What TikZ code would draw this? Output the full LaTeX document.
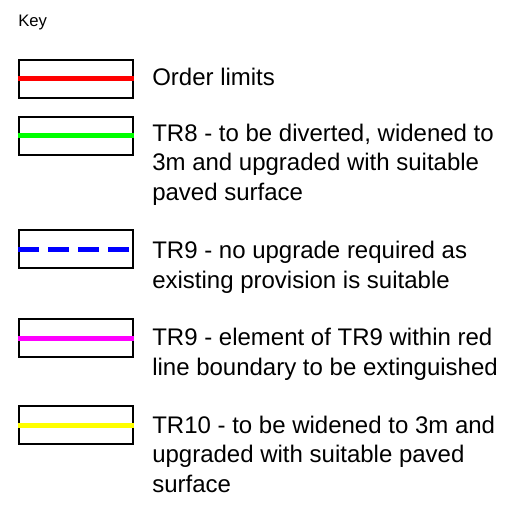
\documentclass[tikz,border=0pt]{standalone}
\usepackage{fontspec}
\setmainfont{Liberation Sans}
\definecolor{limitred}{RGB}{255,0,0}
\definecolor{divertgreen}{RGB}{0,255,0}
\definecolor{keepblue}{RGB}{0,0,255}
\definecolor{stopmagenta}{RGB}{255,0,255}
\definecolor{widenyellow}{RGB}{255,255,0}
\begin{document}
\begin{tikzpicture}[x=0.75pt,y=-0.75pt]
				\tikzstyle{Swatch} = [draw, line width=1.1pt, minimum width=85.5pt, minimum height=28.5pt, inner sep=0pt]
				\tikzstyle{Label} = [anchor=base west, align=left, inner sep=0pt, font=\fontsize{18}{22.1}\selectfont]
				\tikzstyle{Track} = [line width=3.75pt]
				\useasboundingbox (0,0) rectangle (524,506);
				\node (key) at (18,27) [anchor=base west, inner sep=0pt, font=\fontsize{12.5}{15}\selectfont] {Key};
				\node (s1) at (76,79) [Swatch] {};
				\node (s2) at (76,136) [Swatch] {};
				\node (s3) at (76,249) [Swatch] {};
				\node (s4) at (76,338) [Swatch] {};
				\node (s5) at (76,425) [Swatch] {};
				\draw [Track, limitred] (s1.west) to (s1.east);
				\draw [Track, divertgreen] (s2.west) to (s2.east);
				\draw [Track, keepblue, dash pattern=on 15.75pt off 6.75pt] (s3.west) to (s3.east);
				\draw [Track, stopmagenta] (s4.west) to (s4.east);
				\draw [Track, widenyellow] (s5.west) to (s5.east);
				% base west = baseline of the last line
				\node (t1) at (152,86) [Label] {Order limits};
				\node (t2) at (152,200) [Label] {TR8 - to be diverted, widened to\\3m and upgraded with suitable\\paved surface};
				\node (t3) at (152,288) [Label] {TR9 - no upgrade required as\\existing provision is suitable};
				\node (t4) at (152,375) [Label] {TR9 - element of TR9 within red\\line boundary to be extinguished};
				\node (t5) at (152,492) [Label] {TR10 - to be widened to 3m and\\upgraded with suitable paved\\surface};
\end{tikzpicture}
\end{document}
